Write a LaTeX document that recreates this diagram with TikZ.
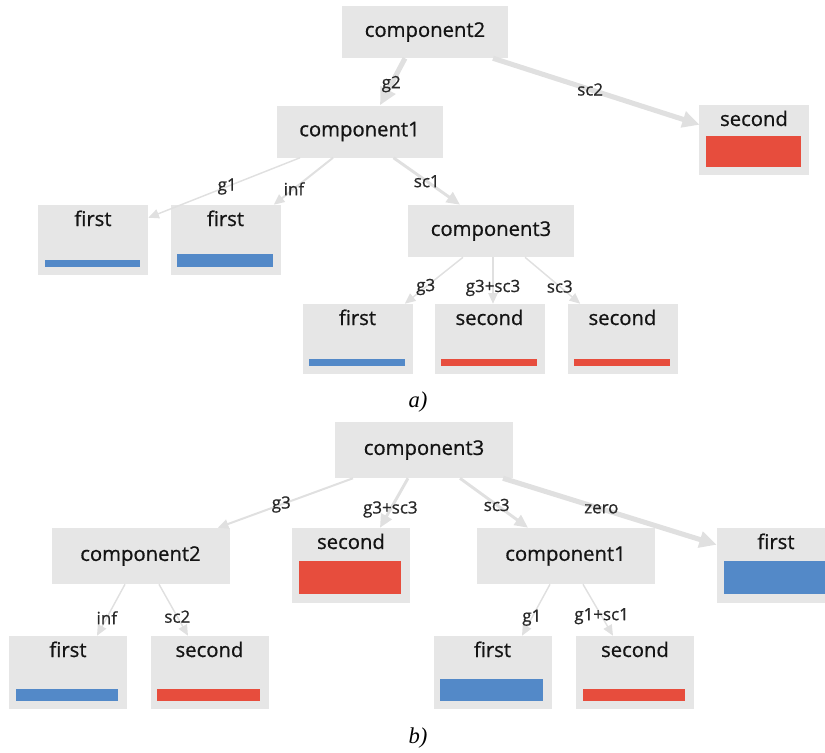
\documentclass[tikz,border=0pt]{standalone}
\usepackage{fontspec}
\setmainfont{Open Sans}[RawFeature={embolden=0.8}]
\newfontfamily\capfont{Liberation Serif}
\usetikzlibrary{arrows.meta,calc}
\definecolor{boxc}{RGB}{230,230,230}
\definecolor{edgec}{RGB}{224,224,224}
\definecolor{firstc}{RGB}{83,137,200}
\definecolor{secondc}{RGB}{231,77,61}
\definecolor{textc}{RGB}{20,20,20}
\definecolor{lblc}{RGB}{40,40,40}
\tikzset{
  comp/.style    = {fill=boxc, inner sep=0pt, text=textc, font=\fontsize{15.2}{18}\selectfont},
  compa/.style   = {comp, minimum width=124.5pt, minimum height=39pt},
  compb/.style   = {comp, minimum width=133.5pt, minimum height=42pt},
  leaf/.style    = {fill=boxc, inner xsep=0pt, inner ysep=3pt, text height=12.75pt,
                    text=textc, font=\fontsize{15.2}{18}\selectfont},
  leafa/.style   = {leaf, minimum width=82.5pt, text depth=33.75pt},
  leafb/.style   = {leaf, minimum width=88.5pt, text depth=37.5pt},
  leafc/.style   = {leaf, minimum width=88.5pt, text depth=36pt},
  flow/.style    = {draw=edgec, line width=1.1pt, -{Triangle[length=8pt,width=7pt]}},
  flowmid/.style = {flow, line width=2.2pt, -{Triangle[length=10pt,width=9pt]}},
  flowbig/.style = {flow, line width=3.8pt, -{Triangle[length=13pt,width=12pt]}},
  lbl/.style     = {font=\fontsize{12.7}{15}\selectfont, text=lblc, inner sep=1pt},
  subcap/.style  = {font=\capfont\itshape\fontsize{17}{19}\selectfont, text=black},
}
\begin{document}
\begin{tikzpicture}[x=0.75pt, y=-0.75pt]
\useasboundingbox (0,0) rectangle (825,753);

% --- a) ---------------------------------------------------------------
\node[compa] (ac2) at (425,32) {component2};
\node[compa] (ac1) at (359.5,131.5) {component1};
\node[compa] (ac3) at (491,231) {component3};
\node[leafa] (as1) at (754,140) {second};
\node[leafa] (af1) at (93,240) {first};
\node[leafa] (af2) at (225.5,240) {first};
\node[leafa] (af3) at (357.5,339) {first};
\node[leafa] (as3) at (489.5,339) {second};
\node[leafa] (as4) at (622.5,339) {second};

\fill[secondc] ($(as1.south west)+(7,-8)$) rectangle ($(as1.south east)+(-8,-39)$);
\fill[firstc] ($(af1.south west)+(7,-8)$) rectangle ($(af1.south east)+(-8,-15)$);
\fill[firstc] ($(af2.south west)+(7,-8)$) rectangle ($(af2.south east)+(-8,-21)$);
\fill[firstc] ($(af3.south west)+(7,-8)$) rectangle ($(af3.south east)+(-8,-15)$);
\fill[secondc] ($(as3.south west)+(7,-8)$) rectangle ($(as3.south east)+(-8,-15)$);
\fill[secondc] ($(as4.south west)+(7,-8)$) rectangle ($(as4.south east)+(-8,-15)$);

\draw[flowbig] ($(ac2.south)+(-20,0)$) -- ($(ac1.north)+(20.5,0)$) node[lbl, pos=0.55] {g2};
\draw[flowbig] ($(ac2.south)+(68,0)$) -- ($(as1.north west)+(1,20)$) node[lbl, pos=0.47] {sc2};
\draw[flow] ($(ac1.south)+(-59.5,0)$) -- ($(af1.north east)+(0,13)$) node[lbl, pos=0.48] {g1};
\draw[flow, line width=1.5pt] ($(ac1.south)+(-26.5,0)$) -- ($(af2.north east)+(-7,0)$) node[lbl, pos=0.66] {inf};
\draw[flowmid] ($(ac1.south)+(34,0)$) -- ($(ac3.north)+(-31,0)$) node[lbl, pos=0.5] {sc1};
\draw[flow] ($(ac3.south)+(-28,0)$) -- ($(af3.north east)+(-8,0)$) node[lbl, pos=0.64] {g3};
\draw[flow] ($(ac3.south)+(2,0)$) -- ($(as3.north)+(3.5,0)$) node[lbl, pos=0.66] {g3+sc3};
\draw[flow] ($(ac3.south)+(34,0)$) -- ($(as4.north west)+(13,0)$) node[lbl, pos=0.63] {sc3};

\node[subcap] (capa) at (418,402) {a)};

% --- b) ---------------------------------------------------------------
\node[compb] (bc3) at (424,450) {component3};
\node[compb] (bc2) at (140.5,556) {component2};
\node[compb] (bc1) at (565.5,556) {component1};
\node[leafb] (bs1) at (351,565.5) {second};
\node[leafb] (bf1) at (776,565.5) {first};
\node[leafc] (bf2) at (68,672.5) {first};
\node[leafc] (bs2) at (209.5,672.5) {second};
\node[leafc] (bf3) at (492.5,672.5) {first};
\node[leafc] (bs3) at (635,672.5) {second};

\fill[secondc] ($(bs1.south west)+(7,-9)$) rectangle ($(bs1.south east)+(-9,-42)$);
\fill[firstc] ($(bf1.south west)+(7,-9)$) rectangle ($(bf1.south east)+(-9,-42)$);
\fill[firstc] ($(bf2.south west)+(7,-8)$) rectangle ($(bf2.south east)+(-9,-20)$);
\fill[secondc] ($(bs2.south west)+(7,-8)$) rectangle ($(bs2.south east)+(-9,-20)$);
\fill[firstc] ($(bf3.south west)+(7,-8)$) rectangle ($(bf3.south east)+(-9,-30)$);
\fill[secondc] ($(bs3.south west)+(7,-8)$) rectangle ($(bs3.south east)+(-9,-20)$);

\draw[flow, line width=1.5pt] ($(bc3.south)+(-71,0)$) -- ($(bc2.north east)+(-12,0)$) node[lbl, pos=0.53] {g3};
\draw[flowmid] ($(bc3.south)+(-16,0)$) -- ($(bs1.north)+(29,0)$) node[lbl, pos=0.63] {g3+sc3};
\draw[flowmid] ($(bc3.south)+(36,0)$) -- ($(bc1.north)+(-37.5,0)$) node[lbl, pos=0.54] {sc3};
\draw[flowbig] ($(bc3.south)+(79,0)$) -- ($(bf1.north west)+(0,17)$) node[lbl, pos=0.46] {zero};
\draw[flow] ($(bc2.south)+(-15.5,0)$) -- ($(bf2.north)+(29,0)$) node[lbl, pos=0.65] {inf};
\draw[flow] ($(bc2.south)+(18.5,0)$) -- ($(bs2.north)+(-21.5,0)$) node[lbl, pos=0.63] {sc2};
\draw[flow] ($(bc1.south)+(-15.5,0)$) -- ($(bf3.north)+(29.5,0)$) node[lbl, pos=0.65] {g1};
\draw[flow] ($(bc1.south)+(17.5,0)$) -- ($(bs3.north)+(-22,0)$) node[lbl, pos=0.62] {g1+sc1};

\node[subcap] (capb) at (418,738) {b)};

\end{tikzpicture}
\end{document}
